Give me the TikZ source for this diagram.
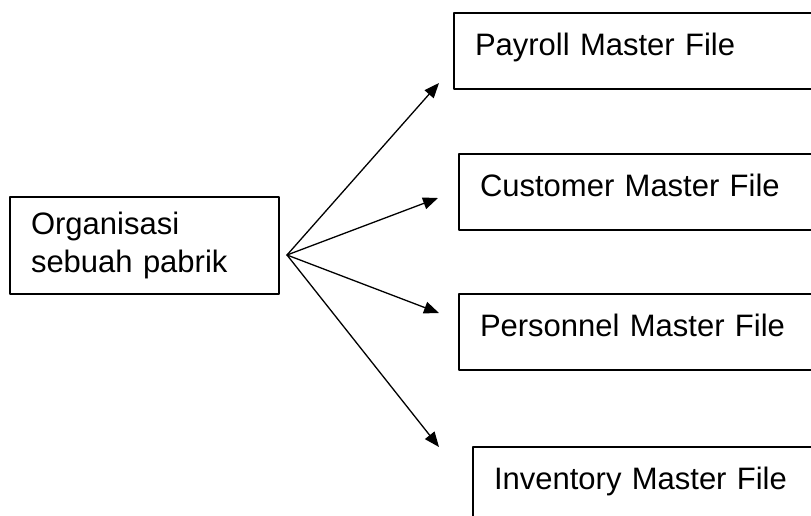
\documentclass[tikz,border=0pt]{standalone}
\usepackage{fontspec}
\setmainfont{Liberation Sans}
\usepackage{pgf,tikz}
\usetikzlibrary{arrows.meta}
\usetikzlibrary{positioning}

\tikzset{
  orgbox/.style={draw,line width=2pt,anchor=north west,align=left,
    text width=227pt,inner xsep=21pt,inner ysep=0pt,minimum height=97pt},
  filebox/.style={draw,line width=2pt,anchor=north west,align=left,
    text width=380pt,inner xsep=21pt,inner ysep=8pt,
    text height=34pt,text depth=26pt},
  link/.style={->,line width=1.3pt}
}

\begin{document}
\begin{tikzpicture}[line cap=round,line join=round,>={Triangle[length=15pt,width=12pt]},x=1pt,y=-1pt,
  font=\fontsize{31}{38}\selectfont]
\useasboundingbox (0,0) rectangle (811,515);
\clip (0,0) rectangle (811,515);
\node[orgbox] (org) at (9,196) {Organisasi\\sebuah pabrik};
\node[filebox] (payroll) at (453,12) {Payroll Master File};
\node[filebox] (customer) at (458,153) {Customer Master File};
\node[filebox] (personnel) at (458,293) {Personnel Master File};
\node[filebox] (inventory) at (472,446) {Inventory Master File};
\coordinate (hub) at (287,255);
\coordinate (tippay) at (439,83);
\coordinate (tipcus) at (438,198);
\coordinate (tipper) at (439,313);
\coordinate (tipinv) at (439,447);
\draw [link] (hub) -- (tippay);
\draw [link] (hub) -- (tipcus);
\draw [link] (hub) -- (tipper);
\draw [link] (hub) -- (tipinv);
\end{tikzpicture}
\end{document}
